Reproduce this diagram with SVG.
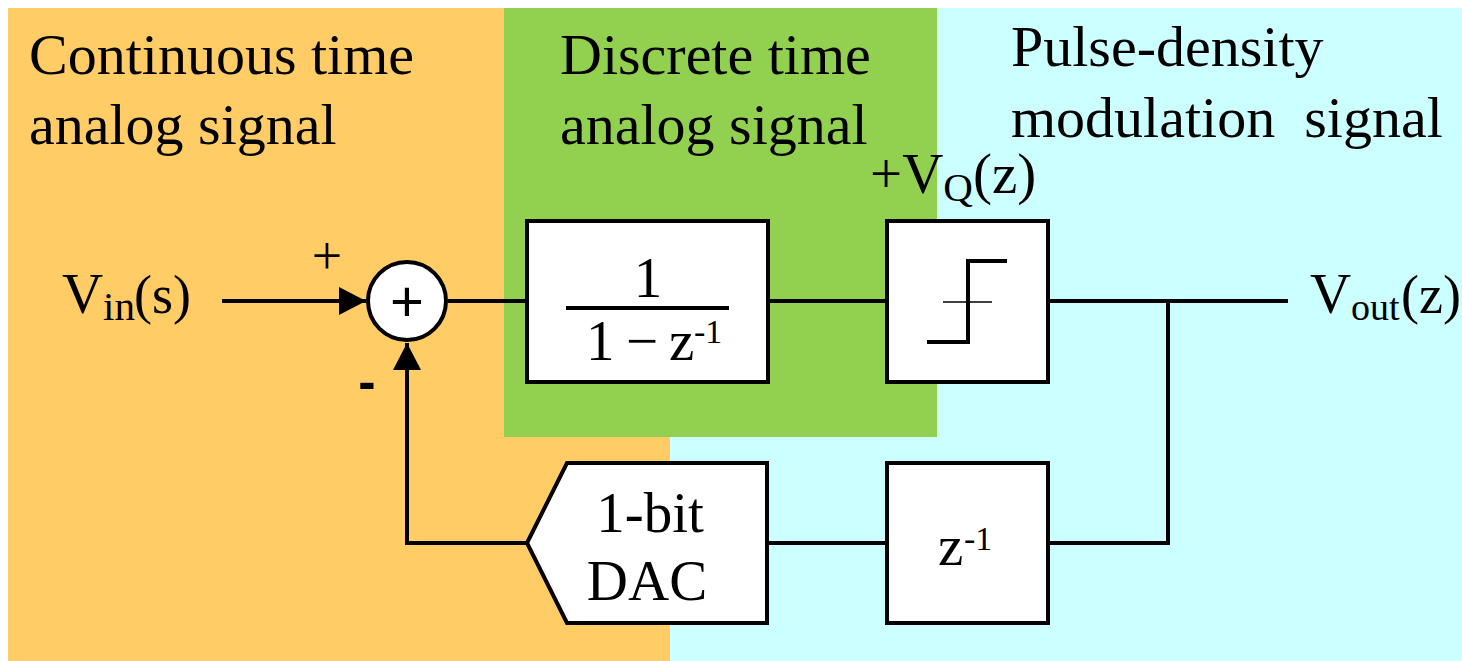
<svg xmlns="http://www.w3.org/2000/svg" width="1462" height="661" viewBox="0 0 1462 661">
<defs>
<style>
.t{font-family:"Liberation Serif","Times New Roman",serif;font-size:57px;fill:#000}
.h{font-family:"Liberation Serif","Times New Roman",serif;font-size:58px;fill:#000}
.sub{font-size:41px}
.sup{font-size:34px}
.blk{fill:#fff;stroke:#000;stroke-width:4;stroke-linejoin:miter}
.w{fill:none;stroke:#000;stroke-width:4}
</style>
<marker id="arr" viewBox="0 0 27 28" refX="27" refY="14" markerWidth="27" markerHeight="28" markerUnits="userSpaceOnUse" orient="auto">
<path d="M0,0 L27,14 L0,28 Z" fill="#000"/>
</marker>
</defs>
<rect width="1462" height="661" fill="#fff"/>
<g id="regions">
<rect x="670" y="8" width="792" height="653" fill="#CCFFFF"/>
<rect x="8" y="8" width="662" height="653" fill="#FFCC66"/>
<rect x="504" y="8" width="433" height="429" fill="#92D050"/>
</g>
<g id="labels">
<text class="h" x="29" y="74">Continuous time</text>
<text class="h" x="29" y="144">analog signal</text>
<text class="h" x="560" y="74">Discrete time</text>
<text class="h" x="560" y="144">analog signal</text>
<text class="h" x="1011" y="66">Pulse-density</text>
<text class="h" x="1011" y="137" xml:space="preserve">modulation  signal</text>
</g>
<g id="connectors">
<line class="w" x1="222" y1="301" x2="366" y2="301" marker-end="url(#arr)"/>
<line class="w" x1="448" y1="301" x2="527" y2="301"/>
<line class="w" x1="768" y1="301" x2="887" y2="301"/>
<line class="w" x1="1048" y1="301" x2="1288" y2="301"/>
<polyline class="w" points="1168,301 1168,543 1048,543"/>
<line class="w" x1="887" y1="543" x2="767" y2="543"/>
<polyline class="w" points="527,543 407,543 407,343" marker-end="url(#arr)"/>
</g>
<g id="vin">
<text class="t" x="62" y="313">V<tspan class="sub" x="103" y="320">in</tspan><tspan x="134" y="313" font-size="54">(s)</tspan></text>
</g>
<g id="sum">
<circle cx="407" cy="301" r="39" class="blk"/>
<text x="407" y="321" text-anchor="middle" font-family="Liberation Sans, Arial, sans-serif" font-size="58">+</text>
<text x="327" y="274" text-anchor="middle" font-family="Liberation Serif, Times New Roman, serif" font-size="54">+</text>
<text x="367" y="399" text-anchor="middle" font-family="Liberation Sans, Arial, sans-serif" font-weight="bold" font-size="52">-</text>
</g>
<g id="integrator">
<rect x="527" y="221" width="241" height="161" class="blk"/>
<text class="t" x="648" y="297" text-anchor="middle" font-size="56">1</text>
<line x1="566" y1="308" x2="729" y2="308" stroke="#000" stroke-width="4"/>
<text class="t" y="360" font-size="56"><tspan x="586">1</tspan><tspan x="626">−</tspan><tspan x="669">z</tspan><tspan class="sup" x="694" y="343">-</tspan><tspan class="sup" y="343">1</tspan></text>
</g>
<g id="quantizer">
<rect x="887" y="221" width="161" height="161" class="blk"/>
<line x1="943" y1="302" x2="992" y2="302" stroke="#000" stroke-width="1.5"/>
<polyline points="927,342 968,342 968,261 1007,261" fill="none" stroke="#000" stroke-width="4"/>
<text class="t" x="870" y="193">+V<tspan class="sub" y="201">Q</tspan><tspan y="193">(z)</tspan></text>
</g>
<g id="vout">
<text class="t" x="1310" y="313">V<tspan x="1351" y="320" font-size="38">out</tspan><tspan x="1401" y="313" font-size="54">(z)</tspan></text>
</g>
<g id="delay">
<rect x="887" y="463" width="161" height="160" class="blk"/>
<text class="t" y="565" font-size="56"><tspan x="938">z</tspan><tspan class="sup" x="964" y="550">-</tspan><tspan class="sup" y="550">1</tspan></text>
</g>
<g id="dac">
<polygon points="527,543 567,463 767,463 767,623 567,623" class="blk"/>
<text class="t" x="650" y="532" text-anchor="middle" font-size="56">1-bit</text>
<text class="t" x="647" y="600" text-anchor="middle" font-size="56">DAC</text>
</g>
</svg>
